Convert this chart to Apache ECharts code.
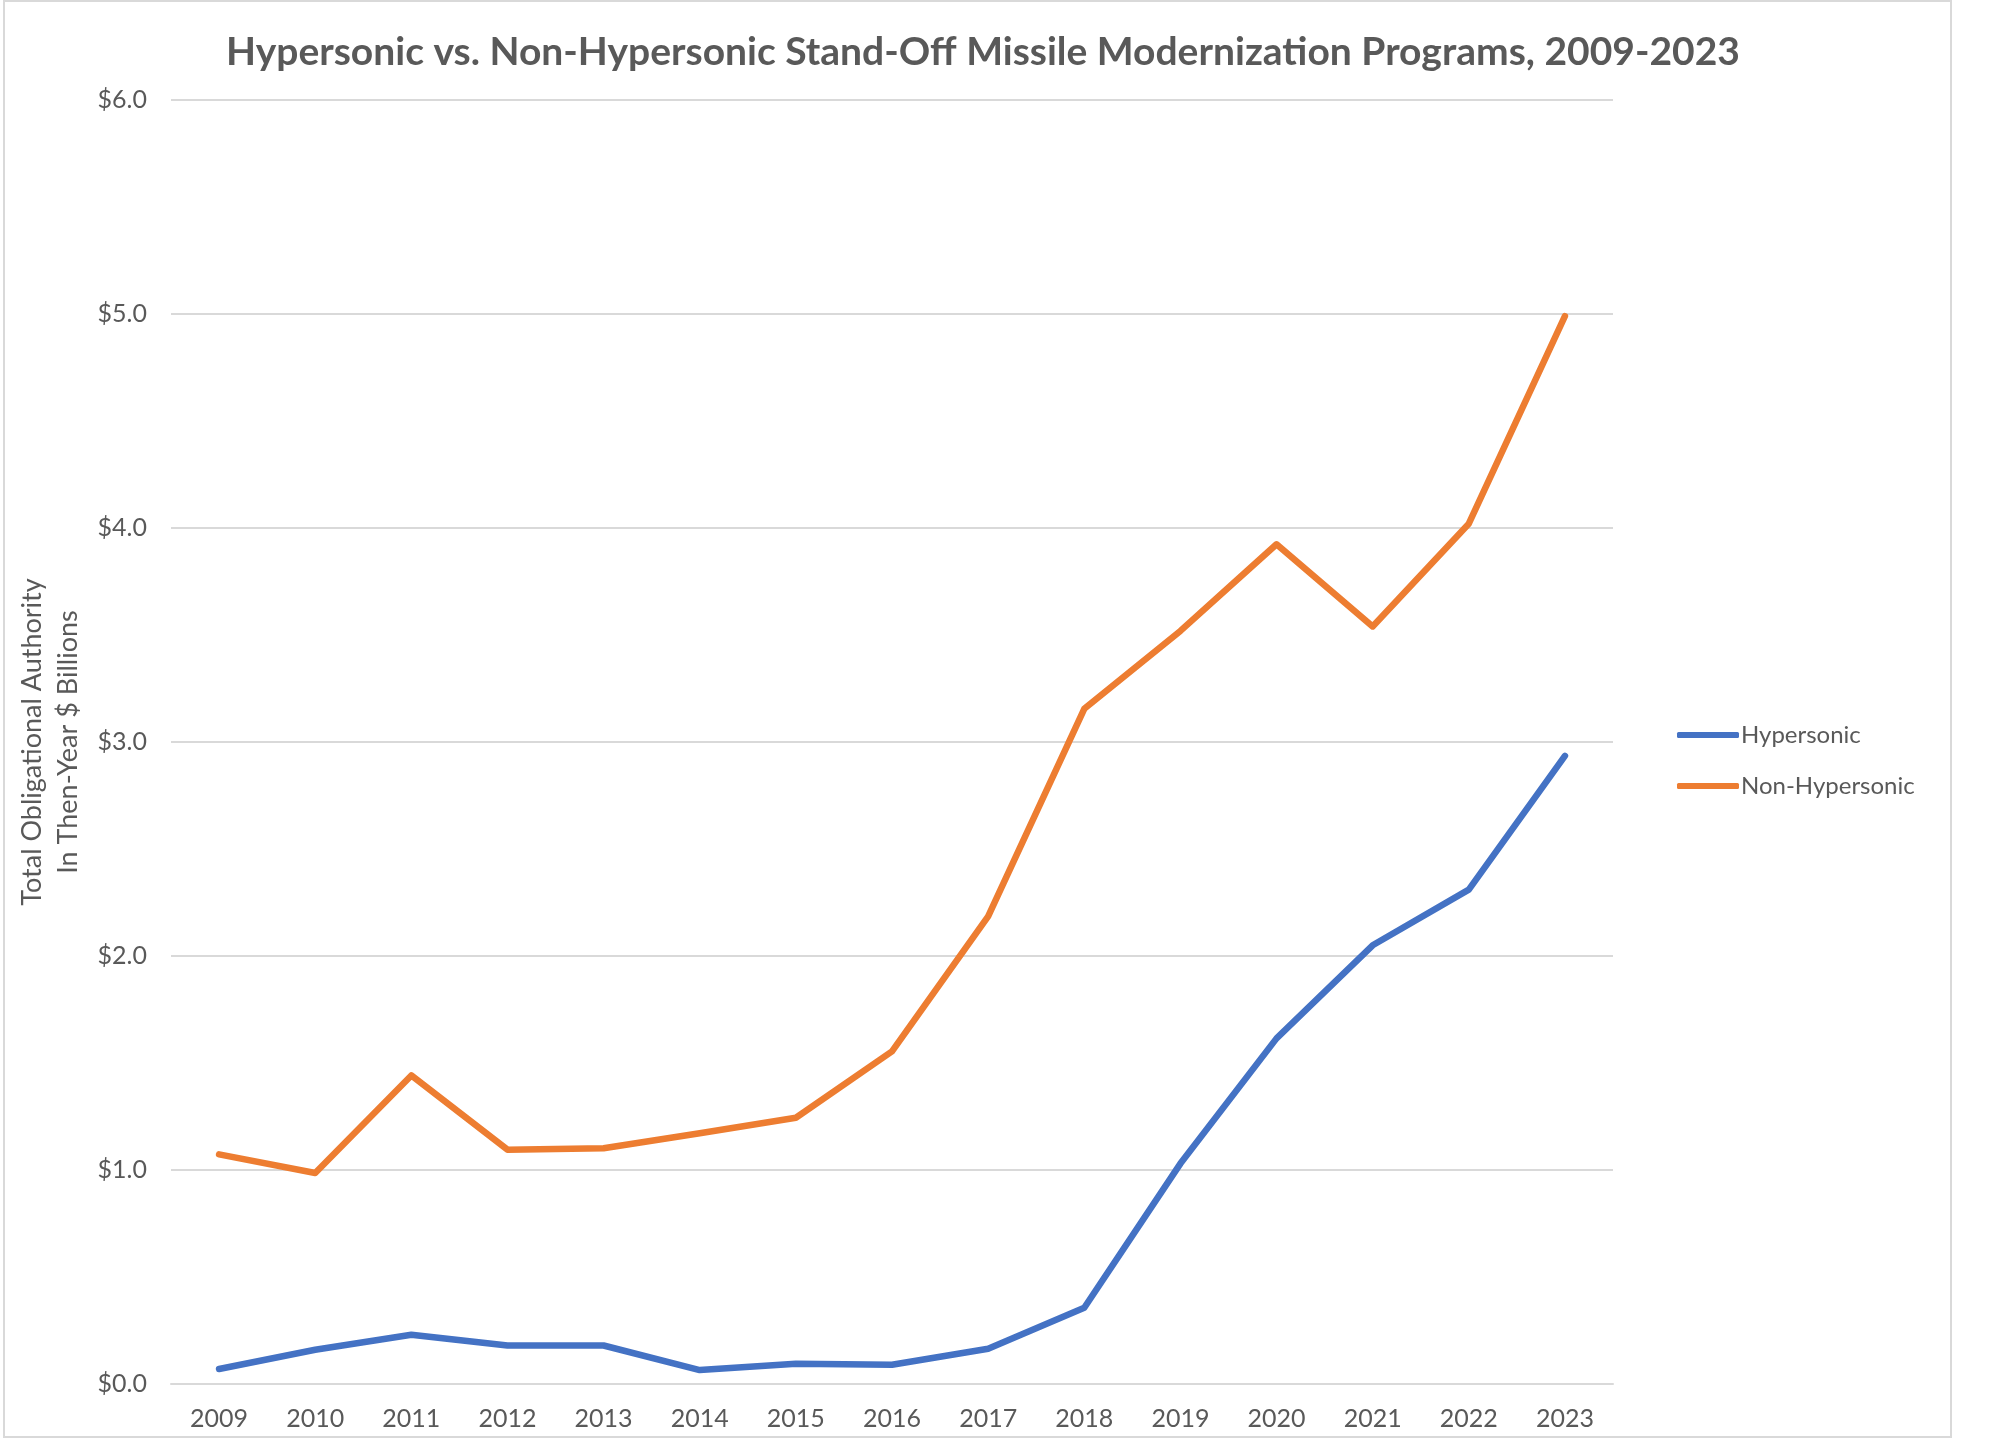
<!DOCTYPE html>
<html>
<head>
<meta charset="utf-8">
<script src="https://cdn.jsdelivr.net/npm/echarts@6/dist/echarts.min.js"></script>
<style>
html,body{margin:0;padding:0;background:#fff;}
#chart{width:1998px;height:1440px;}
</style>
</head>
<body>
<div id="chart"></div>
<script>
const years = ['2009','2010','2011','2012','2013','2014','2015','2016','2017','2018','2019','2020','2021','2022','2023'];
const hypersonic = [0.07, 0.16, 0.23, 0.18, 0.18, 0.065, 0.095, 0.09, 0.165, 0.356, 1.03, 1.615, 2.05, 2.31, 2.935];
const nonHypersonic = [1.073, 0.986, 1.442, 1.095, 1.102, 1.172, 1.244, 1.554, 2.185, 3.155, 3.519, 3.924, 3.54, 4.02, 4.99];
const seriesNames = ['Hypersonic', 'Non-Hypersonic'];
const titleText = 'Hypersonic vs. Non-Hypersonic Stand-Off Missile Modernization Programs, 2009-2023';
const yAxisTitle = 'Total Obligational Authority\nIn Then-Year $ Billions';

const chart = echarts.init(document.getElementById('chart'), null, {renderer: 'canvas'});
const FONT = 'Lato, "Open Sans", sans-serif';
const TXT = '#595959';
chart.setOption({
  backgroundColor: '#ffffff',
  animation: false,
  graphic: [{
    type: 'rect',
    shape: {x: 4, y: 1, width: 1947, height: 1436},
    style: {fill: 'none', stroke: '#d9d9d9', lineWidth: 2},
    silent: true
  }],
  title: {
    text: titleText,
    left: 978,
    top: 28,
    textAlign: 'center',
    textStyle: {fontFamily: FONT, fontSize: 39, fontWeight: 'bold', color: TXT}
  },
  legend: {
    orient: 'vertical',
    left: 1672,
    top: 716,
    itemWidth: 62,
    itemHeight: 6,
    itemGap: 23,
    icon: 'roundRect',
    textStyle: {fontFamily: FONT, fontSize: 24, color: TXT, padding: [0,0,0,-3], lineHeight: 28},
    data: seriesNames
  },
  grid: {left: 171, right: 385, top: 100, bottom: 56, containLabel: false},
  xAxis: {
    type: 'category',
    data: years,
    boundaryGap: true,
    axisLine: {show: true, lineStyle: {color: '#d9d9d9', width: 2}},
    axisTick: {show: false},
    axisLabel: {fontFamily: FONT, fontSize: 25, color: TXT, margin: 22}
  },
  yAxis: {
    type: 'value',
    min: 0, max: 6, interval: 1,
    name: yAxisTitle,
    nameLocation: 'middle',
    nameGap: 83,
    nameTextStyle: {fontFamily: FONT, fontSize: 27, color: TXT, lineHeight: 36, align: 'center'},
    axisLine: {show: false},
    axisTick: {show: false},
    splitLine: {lineStyle: {color: '#d9d9d9', width: 2}},
    axisLabel: {fontFamily: FONT, fontSize: 25, color: TXT, margin: 24,
      formatter: v => '$' + v.toFixed(1)}
  },
  series: [
    {name: seriesNames[0], type: 'line', data: hypersonic, symbol: 'none',
     lineStyle: {width: 6.5, color: '#4472C4', cap: 'round', join: 'round'}, itemStyle: {color: '#4472C4'}},
    {name: seriesNames[1], type: 'line', data: nonHypersonic, symbol: 'none',
     lineStyle: {width: 6.5, color: '#ED7D31', cap: 'round', join: 'round'}, itemStyle: {color: '#ED7D31'}}
  ]
});
</script>
</body>
</html>
